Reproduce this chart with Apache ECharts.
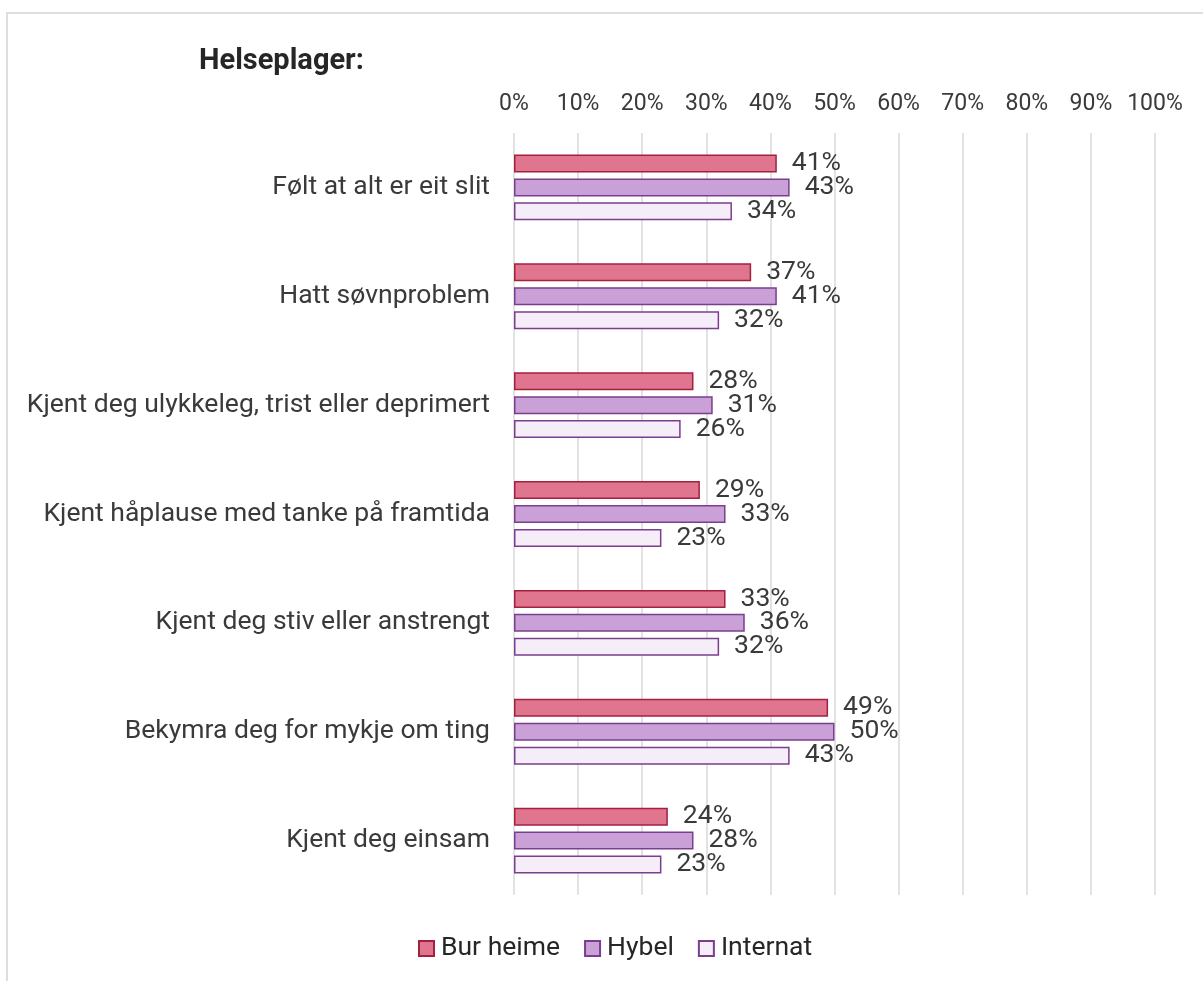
<!DOCTYPE html>
<html>
<head>
<meta charset="utf-8">
<script src="https://cdn.jsdelivr.net/npm/echarts@6/dist/echarts.min.js"></script>
<style>
  html, body { margin: 0; padding: 0; background: #fff; overflow: hidden; }
  #frame { position: absolute; left: 6px; top: 12px; width: 1400px; height: 1200px; border: 2px solid #dedede; }
  #main { position: absolute; left: 0; top: 0; width: 1203px; height: 981px; }
</style>
</head>
<body>
<div id="frame"></div>
<div id="main"></div>
<script>
const categories = [
  'Følt at alt er eit slit',
  'Hatt søvnproblem',
  'Kjent deg ulykkeleg, trist eller deprimert',
  'Kjent håplause med tanke på framtida',
  'Kjent deg stiv eller anstrengt',
  'Bekymra deg for mykje om ting',
  'Kjent deg einsam'
];
const burHeime = [41, 37, 28, 29, 33, 49, 24];
const hybel = [43, 41, 31, 33, 36, 50, 28];
const internat = [34, 32, 26, 23, 32, 43, 23];

const chart = echarts.init(document.getElementById('main'));
const font = 'Roboto, "Liberation Sans", sans-serif';

function mk(name, data, fill, border) {
  return {
    name: name,
    type: 'bar',
    data: data,
    barWidth: 18,
    barGap: '33%',
    itemStyle: { color: fill, borderColor: border, borderWidth: 1.5 },
    label: {
      show: true,
      position: 'right',
      distance: 15,
      formatter: '{c}%',
      color: '#3a3a3a',
      fontSize: 26.5,
      fontFamily: font
    }
  };
}

chart.setOption({
  animation: false,
  backgroundColor: 'transparent',
  title: {
    text: 'Helseplager:',
    left: 194,
    top: 42,
    textStyle: { fontSize: 29, fontWeight: 'bold', color: '#262626', fontFamily: font }
  },
  legend: {
    bottom: 14,
    left: 413,
    itemWidth: 15,
    itemHeight: 15,
    itemGap: 24,
    icon: 'rect',
    textStyle: { fontSize: 26.5, color: '#262626', fontFamily: font, padding: [0, 0, 0, 2] },
    data: ['Bur heime', 'Hybel', 'Internat']
  },
  grid: { left: 514, right: 48, top: 133, bottom: 86 },
  xAxis: {
    type: 'value',
    position: 'top',
    min: 0,
    max: 100,
    interval: 10,
    axisLine: { show: false },
    axisTick: { show: false },
    splitLine: { lineStyle: { color: '#d9d9d9', width: 1.5 } },
    axisLabel: { formatter: '{value}%', fontSize: 23, color: '#3a3a3a', fontFamily: font, margin: 17 }
  },
  yAxis: {
    type: 'category',
    inverse: true,
    data: categories,
    axisLine: { show: false },
    axisTick: { show: false },
    axisLabel: { fontSize: 26.5, color: '#3a3a3a', fontFamily: font, margin: 24 }
  },
  series: [
    mk('Bur heime', burHeime, '#E0758F', '#A3203F'),
    mk('Hybel', hybel, '#C9A1D6', '#7B3E8E'),
    mk('Internat', internat, '#F5EEF9', '#7B3E8E')
  ]
});
</script>
</body>
</html>
